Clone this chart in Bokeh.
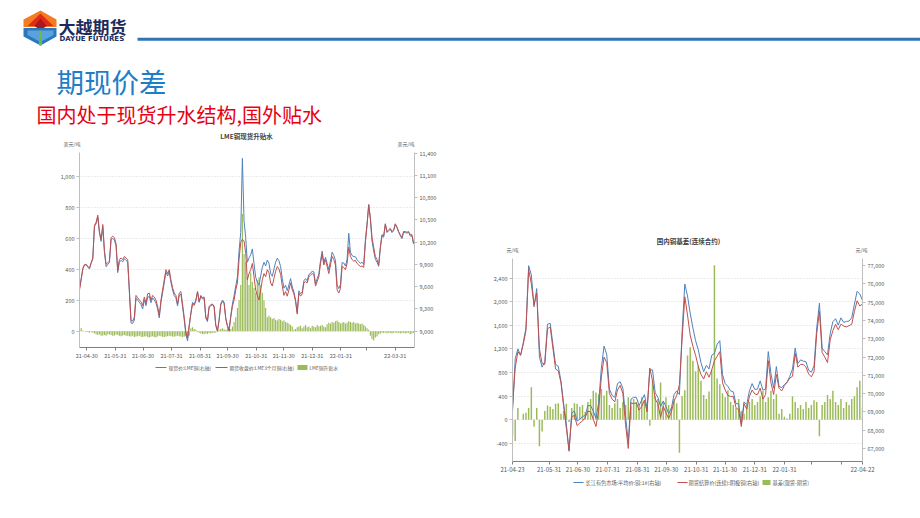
import pandas as pd
from bokeh.plotting import figure
from bokeh.models import (Range1d, LinearAxis, FixedTicker, DatetimeTickFormatter,
                          NumeralTickFormatter, Spacer)
from bokeh.layouts import column, row
from bokeh.embed import file_html
from bokeh.resources import INLINE
from bokeh.core.properties import value

FONT = "Noto Sans CJK SC"

# ---------------- Left chart data: LME copper (USD/t) ----------------
lme_start, lme_end = "2021-04-22", "2022-04-20"
lme_3m = [
    9557, 9693, 9840, 9897, 9903, 9872, 9851, 9924, 9987, 10428,
    10470, 10565, 10344, 10239, 10439, 10092, 9903, 9924, 9945, 10260,
    10281, 10260, 10176, 9819, 9966, 9987, 9966, 10008, 9987, 9966,
    9557, 9147, 9137, 9189, 9483, 9452, 9420, 9399, 9347, 9462,
    9378, 9504, 9515, 9420, 9483, 9462, 9420, 9336, 9210, 9420,
    9557, 9693, 9830, 9777, 9830, 9693, 9588, 9515, 9483, 9368,
    9515, 9536, 9368, 9189, 8990, 8906, 9084, 9231, 9368, 9347,
    9410, 9536, 9399, 9483, 9452, 9462, 9189, 9147, 9336, 9357,
    9368, 9336, 9084, 9000, 9147, 9357, 9399, 9378, 9168, 9063,
    9000, 9189, 9336, 9420, 9557, 9651, 9966, 10197, 10239, 10218,
    10050, 9693, 9777, 9830, 9914, 9735, 9557, 9483, 9420, 9557,
    9693, 9777, 9735, 9830, 9788, 9651, 9609, 9714, 9809, 9872,
    9840, 9767, 9609, 9483, 9536, 9473, 9557, 9651, 9557, 9504,
    9399, 9231, 9515, 9473, 9504, 9651, 9672, 9651, 9735, 9756,
    9777, 9767, 9609, 9672, 9735, 9914, 10040, 9893, 9966, 9872,
    9777, 9893, 10008, 9966, 9893, 9557, 9515, 9578, 9872, 9861,
    9830, 9914, 10134, 10008, 9966, 9945, 9956, 9914, 9893, 9872,
    9880, 9860, 10197, 10428, 10701, 10533, 10260, 10134, 10008, 9966,
    9893, 10134, 10302, 10281, 10449, 10344, 10365, 10386, 10344, 10365,
    10449, 10407, 10344, 10302, 10260, 10344, 10344, 10334, 10344, 10302,
    10302, 10187,
]
lme_cash = [
    9575, 9710, 9845, 9895, 9895, 9865, 9840, 9915, 9975, 10410,
    10450, 10540, 10320, 10210, 10410, 10065, 9870, 9900, 9925, 10235,
    10250, 10230, 10150, 9790, 9935, 9955, 9935, 9980, 9955, 9935,
    9525, 9110, 9105, 9150, 9445, 9420, 9390, 9360, 9300, 9425,
    9345, 9460, 9470, 9385, 9450, 9420, 9380, 9300, 9180, 9385,
    9520, 9655, 9795, 9745, 9800, 9660, 9555, 9480, 9450, 9340,
    9485, 9500, 9330, 9155, 8955, 8870, 9055, 9250, 9390, 9360,
    9420, 9530, 9390, 9470, 9435, 9442, 9175, 9130, 9325, 9342,
    9358, 9325, 9076, 9005, 9157, 9372, 9419, 9390, 9176, 9081,
    9025, 9204, 9366, 9480, 9610, 9730, 10080, 10330, 11330, 10490,
    10260, 9930, 9990, 10030, 10110, 9910, 9730, 9660, 9620, 9745,
    9860, 9930, 9880, 9960, 9915, 9780, 9740, 9840, 9930, 9985,
    9950, 9870, 9710, 9580, 9620, 9545, 9625, 9710, 9600, 9530,
    9420, 9255, 9545, 9505, 9530, 9680, 9710, 9680, 9765, 9780,
    9810, 9800, 9640, 9710, 9770, 9950, 10080, 9925, 9995, 9915,
    9830, 9945, 10065, 10020, 9955, 9625, 9575, 9630, 9925, 9920,
    9880, 9970, 10320, 10065, 10020, 10005, 10005, 9965, 9940, 9915,
    9930, 9900, 10225, 10445, 10710, 10505, 10215, 10080, 9970, 9930,
    9875, 10120, 10290, 10268, 10440, 10330, 10355, 10375, 10330, 10355,
    10440, 10395, 10335, 10288, 10248, 10335, 10330, 10322, 10335, 10282,
    10288, 10175,
]
lme_spread = [
    20, 20, 5, 0, -5, -5, -10, -5, -10, -15,
    -20, -25, -20, -30, -28, -25, -30, -22, -20, -25,
    -30, -28, -22, -25, -30, -32, -28, -25, -30, -30,
    -33, -35, -30, -38, -35, -33, -30, -36, -38, -35,
    -32, -38, -40, -36, -33, -38, -40, -35, -30, -33,
    -36, -38, -35, -33, -30, -32, -34, -36, -33, -30,
    -32, -35, -37, -35, -33, -38, -30, 20, 25, 15,
    10, -5, -10, -15, -18, -20, -15, -18, -12, -15,
    -10, -12, -8, 5, 10, 15, 20, 12, 8, 18,
    25, 15, 30, 60, 90, 150, 200, 300, 760, 500,
    450, 350, 300, 380, 320, 280, 250, 330, 350, 300,
    250, 200, 150, 90, 100, 90, 80, 85, 75, 70,
    80, 75, 65, 70, 60, 55, 50, 40, 30, 10,
    15, 25, 30, 35, 20, 30, 40, 25, 30, 20,
    35, 30, 25, 40, 30, 35, 40, 30, 25, 45,
    55, 50, 60, 55, 65, 70, 60, 50, 55, 60,
    50, 55, 65, 60, 55, 60, 50, 55, 50, 45,
    50, 40, 30, 20, 10, -30, -50, -60, -40, -35,
    -20, -15, -10, -12, -8, -15, -10, -12, -15, -10,
    -8, -12, -10, -15, -12, -10, -15, -12, -10, -20,
    -15, -10,
]
lme_tick_dates = ["2021-04-30", "2021-05-31", "2021-06-30", "2021-07-31", "2021-08-31",
                  "2021-09-30", "2021-10-31", "2021-11-30", "2021-12-31", "2022-01-31",
                  "2022-02-28", "2022-03-31"]
lme_tick_labels = ["21-04-30", "21-05-31", "21-06-30", "21-07-31", "21-08-31", "21-09-30",
                   "21-10-31", "21-11-30", "21-12-31", "22-01-31", "", "22-03-31"]
lme_left_ticks = [0, 200, 400, 600, 800, 1000]
lme_right_ticks = [9000, 9300, 9600, 9900, 10200, 10500, 10800, 11100, 11400]
lme_names = ["现货价:LME铜(右轴)", "期货收盘价:LME3个月铜(右轴)", "LME铜升贴水"]

# ---------------- Right chart data: domestic copper (CNY/t) ----------------
cn_start, cn_end = "2021-04-23", "2022-04-22"
cn_settle = [
    69250, 71400, 72300, 72100, 72700, 73450, 76800, 76000, 74850, 75500,
    72450, 71650, 71600, 73550, 73650, 72500, 71350, 71250, 70600, 69300,
    68100, 66900, 68750, 68800, 68250, 68400, 68500, 68700, 69050, 69000,
    68600, 68200, 69100, 70900, 72000, 71700, 70000, 69700, 69550, 70200,
    70450, 70000, 68300, 67000, 69500, 69450, 69500, 69100, 69300, 69650,
    69000, 71400, 70700, 69700, 69450, 68700, 69300, 68950, 68650, 69000,
    69600, 69900, 70500, 73000, 75300, 74300, 73200, 72600, 72100, 71500,
    71050, 70800, 71200, 70900, 71300, 71800, 72050, 72300, 70600, 70200,
    69900, 69850, 69850, 69250, 69100, 68200, 69450, 69150, 69850, 70200,
    69980, 69950, 70300, 69700, 69950, 71800, 70600, 69950, 71050, 70300,
    70150, 70450, 70620, 70850, 70950, 72200, 71450, 71600, 71600, 71450,
    71080, 70920, 71200, 73300, 74500, 72250, 72000, 71700, 72950, 73450,
    73800, 73500, 73800, 73700, 73650, 73720, 73800, 74500, 75080, 74800,
    74900,
]
cn_spot = [
    69000, 71900, 72450, 72100, 72800, 73600, 77000, 76500, 74750, 75750,
    72000, 71450, 71750, 73800, 73850, 72700, 71600, 71500, 70700, 69450,
    68350, 66850, 68950, 69050, 68500, 68600, 68750, 68800, 69350, 69350,
    69050, 68650, 69500, 71400, 72600, 72150, 70250, 69900, 69800, 70550,
    70650, 70300, 68750, 67350, 69700, 69800, 69800, 69350, 69650, 69950,
    69200, 71300, 71300, 70050, 69800, 69300, 69600, 69300, 68900, 69200,
    69950, 70150, 69950, 73400, 76000, 75350, 74400, 73600, 72900, 72400,
    71700, 71200, 71550, 71350, 72100, 72200, 72700, 72900, 71050, 70550,
    70400, 70150, 70100, 69450, 69450, 68350, 69550, 69400, 70150, 70550,
    70230, 70250, 70700, 70200, 70250, 72300, 71100, 70300, 71480, 70400,
    70330, 70500, 70640, 70950, 71350, 72500, 71650, 71850, 71780, 71750,
    71280, 71170, 71530, 73600, 74950, 72500, 72300, 72120, 73300, 73940,
    74100, 73750, 74150, 73900, 73950, 73970, 74150, 74900, 75600, 75450,
    75100,
]
cn_basis = [
    -270, -360, 200, 0, 100, 120, 200, 550, -120, 200,
    -450, -200, 150, 240, 220, 180, 270, 280, 100, 150,
    270, -40, 200, 280, 270, 220, 250, 130, 300, 350,
    490, 460, 430, 520, 410, 490, 250, 200, 280, 350,
    200, 300, 250, 380, 230, 350, 300, 250, 380, 300,
    220, -100, 660, 400, 350, 630, 300, 380, 250, 200,
    350, 280, -560, 400, 500, 1090, 1230, 1000, 820, 920,
    660, 420, 350, 480, 850, 2620, 700, 600, 450, 380,
    500, 300, 250, 200, 350, 150, 100, 250, 300, 350,
    250, 300, 400, 490, 300, 380, 490, 350, 430, 100,
    180, 50, 20, 100, 400, 300, 200, 250, 180, 300,
    200, 250, 330, 300, -280, 250, 300, 420, 350, 490,
    300, 250, 350, 200, 300, 250, 350, 400, 550, 660,
    210,
]
cn_tick_dates = ["2021-04-23", "2021-05-31", "2021-06-30", "2021-07-31", "2021-08-31",
                 "2021-09-30", "2021-10-31", "2021-11-30", "2021-12-31", "2022-01-31",
                 "2022-02-28", "2022-03-31", "2022-04-22"]
cn_tick_labels = ["21-04-23", "21-05-31", "21-06-30", "21-07-31", "21-08-31", "21-09-30",
                  "21-10-31", "21-11-30", "21-12-31", "22-01-31", "", "", "22-04-22"]
cn_left_ticks = [-400, 0, 400, 800, 1200, 1600, 2000, 2400]
cn_right_ticks = [67000, 68000, 69000, 70000, 71000, 72000, 73000, 74000, 75000, 76000, 77000]
cn_names = ["长江有色市场:平均价:铜:1#(右轴)", "期货结算价(连续):阴极铜(右轴)", "基差(现货-期货)"]

BLUE = "#4f81bd"
RED = "#c0504d"
GREEN = "#9bbb59"
GREY_TXT = "#595959"


def ms(d):
    return float(pd.Timestamp(d).value // 10**6)


def style_axis(ax, line_color, size="5.5px"):
    ax.axis_line_color = line_color
    ax.major_tick_line_color = line_color
    ax.major_tick_out = 3
    ax.major_tick_in = 0
    ax.minor_tick_line_color = None
    ax.major_label_text_font = FONT
    ax.major_label_text_font_size = size
    ax.major_label_text_color = GREY_TXT
    ax.major_label_standoff = 2


def strip(width, height, bl, br):
    """Text strip whose frame lines up with the chart frame; pixel coords, origin top-left."""
    fw = width - bl - br
    s = figure(width=width, height=height, x_range=Range1d(0, fw), y_range=Range1d(height, 0),
               toolbar_location=None, output_backend="svg",
               min_border_left=bl, min_border_right=br, min_border_top=0, min_border_bottom=0,
               x_axis_location=None, y_axis_location=None, title=None)
    s.grid.visible = False
    s.outline_line_color = None
    return s


def unit_axis(s, side, y, text, standoff):
    ax = LinearAxis(ticker=FixedTicker(ticks=[y]), major_label_overrides={y: text})
    ax.axis_line_color = None
    ax.major_tick_line_color = None
    ax.minor_tick_line_color = None
    ax.major_tick_out = 0
    ax.major_tick_in = 0
    ax.major_label_standoff = standoff
    ax.major_label_text_font = FONT
    ax.major_label_text_font_size = "5px"
    ax.major_label_text_color = GREY_TXT
    s.add_layout(ax, side)


def caption(width, height, bl, br, title_xy, title, unit, unit_y, sl, sr):
    s = strip(width, height, bl, br)
    s.text(x=[title_xy[0]], y=[title_xy[1]], text=[title], text_font=value(FONT),
           text_font_size="6.5px", text_font_style="bold", text_color="#404040",
           text_align="center", text_baseline="middle")
    unit_axis(s, "left", unit_y, unit, sl)
    unit_axis(s, "right", unit_y, unit, sr)
    return s


def legend_strip(width, height, bl, br, yc, names, pos, size):
    s = strip(width, height, bl, br)
    (g1, t1), (g2, t2), (g3, t3) = pos
    s.segment(x0=[g1[0]], y0=[yc], x1=[g1[1]], y1=[yc], line_color=BLUE, line_width=1.2)
    s.segment(x0=[g2[0]], y0=[yc], x1=[g2[1]], y1=[yc], line_color=RED, line_width=1.2)
    s.quad(left=[g3[0]], right=[g3[1]], top=[yc - 2.5], bottom=[yc + 2.5], color=GREEN, line_color=None)
    s.text(x=[t1, t2, t3], y=[yc, yc, yc], text=names, text_font=value(FONT),
           text_font_size=size, text_color=GREY_TXT, text_align="left", text_baseline="middle")
    return s


def build_chart(width, height, borders, x_start, x_end, dates, bars, spot, fut,
                yl, yr, lt, rt, tick_dates, tick_labels, xsize, bar_frac):
    bl, br, bt, bb = borders
    p = figure(width=width, height=height, title=None, x_axis_type="datetime",
               x_range=Range1d(pd.Timestamp(x_start), pd.Timestamp(x_end)),
               y_range=Range1d(*yl), toolbar_location=None, output_backend="svg",
               min_border_left=bl, min_border_right=br, min_border_top=bt, min_border_bottom=bb)
    p.outline_line_color = None
    p.xgrid.visible = False
    p.ygrid.ticker = FixedTicker(ticks=lt)
    p.ygrid.grid_line_color = "#d9d9d9"
    p.ygrid.grid_line_dash = "1 2"
    p.extra_y_ranges = {"price": Range1d(*yr)}

    step = (dates[1] - dates[0]).total_seconds() * 1000.0
    p.vbar(x=dates, top=bars, bottom=0, width=step * bar_frac, color=GREEN, line_color=None)
    p.line(x=dates, y=spot, y_range_name="price", line_color=BLUE, line_width=1)
    p.line(x=dates, y=fut, y_range_name="price", line_color=RED, line_width=1)

    yax = p.yaxis[0]
    yax.ticker = FixedTicker(ticks=lt)
    yax.formatter = NumeralTickFormatter(format="0,0")
    style_axis(yax, "#bfbfbf")

    rax = LinearAxis(y_range_name="price", ticker=FixedTicker(ticks=rt),
                     formatter=NumeralTickFormatter(format="0,0"))
    style_axis(rax, "#bfbfbf")
    p.add_layout(rax, "right")

    xax = p.xaxis[0]
    xt = [ms(d) for d in tick_dates]
    xax.ticker = FixedTicker(ticks=xt)
    xax.formatter = DatetimeTickFormatter(days="%y-%m-%d", months="%y-%m-%d", years="%y-%m-%d")
    xax.major_label_overrides = {t: lab for t, lab in zip(xt, tick_labels) if lab == ""}
    style_axis(xax, "#7f7f7f", xsize)
    return p


# ---- left chart: slide x 50..440, frame 79..414 ----
LB, RB = 29, 26
left_cap = caption(390, 20, LB, RB, (167, 7), "LME铜现货升贴水", "美元/吨", 18, -1, -17)
lme_dates = pd.date_range(lme_start, lme_end, periods=len(lme_3m))
left = build_chart(390, 214, (LB, RB, 4, 15), "2021-04-22", "2022-04-21", lme_dates,
                   lme_spread, lme_cash, lme_3m, (-105.5, 1158.6), (8781, 11409),
                   lme_left_ticks, lme_right_ticks, lme_tick_dates, lme_tick_labels,
                   "5.5px", 0.7)
left_leg = legend_strip(390, 12, LB, RB, 5, lme_names,
                        [((76, 87), 89), ((136, 148), 150), ((218, 228), 230)], "4.8px")

# ---- right chart: slide x 485..890, frame 512..862 ----
LB2, RB2 = 27, 28
right_cap = caption(405, 21, LB2, RB2, (176, 8), "国内铜基差(连续合约)", "元/吨", 18, -6, -7)
cn_dates = pd.date_range(cn_start, cn_end, periods=len(cn_settle))
right = build_chart(405, 223, (LB2, RB2, 5, 15), "2021-04-23", "2022-04-22", cn_dates,
                    cn_basis, cn_spot, cn_settle, (-708, 2733), (66288, 77395),
                    cn_left_ticks, cn_right_ticks, cn_tick_dates, cn_tick_labels,
                    "6px", 0.55)
right_leg = legend_strip(405, 10, LB2, RB2, 4, cn_names,
                         [((61, 71), 73), ((165, 175), 176), ((250, 258), 260)], "5.2px")

# ---------------- Header (slide coordinates) ----------------
hdr = figure(width=920, height=128, x_range=Range1d(0, 920), y_range=Range1d(128, 0),
             toolbar_location=None, output_backend="svg", min_border=0,
             x_axis_location=None, y_axis_location=None, title=None)
hdr.grid.visible = False
hdr.outline_line_color = None
# logo: orange/red upper half, blue lower half, green centre stripe
hdr.patch(x=[40, 56, 56, 23, 23], y=[10, 19, 26.5, 26.5, 19], color="#f47b20", line_color=None)
hdr.patch(x=[40, 53, 27], y=[13, 25.5, 25.5], color="#e3281c", line_color=None)
hdr.patch(x=[40, 46, 40, 34], y=[18, 25.5, 30, 25.5], color="#a8191c", line_color=None)
hdr.patch(x=[23, 56, 56, 40, 23], y=[27.5, 27.5, 36, 45, 36], color="#2a77c0", line_color=None)
hdr.patch(x=[27, 53, 53, 40, 27], y=[30, 30, 34.5, 41.5, 34.5], color="#5aa2de", line_color=None)
hdr.patch(x=[38.5, 41.5, 41.5, 38.5], y=[30, 30, 45, 45], color="#6cb944", line_color=None)
hdr.text(x=[58], y=[25.5], text=["大越期货"], text_font=value(FONT), text_font_size="17px",
         text_font_style="bold", text_color="#1c2b5a", text_baseline="middle")
hdr.text(x=[59], y=[38.5], text=["DAYUE FUTURES"], text_font=value("DejaVu Sans"),
         text_font_size="7px", text_font_style="bold", text_color="#1c2b5a", text_baseline="middle")
hdr.segment(x0=[137], y0=[38.7], x1=[920], y1=[38.7], line_color="#2f75b5", line_width=3)
hdr.text(x=[56], y=[80], text=["期现价差"], text_font=value(FONT), text_font_size="27.5px",
         text_color="#1f7dc8", text_baseline="middle")
hdr.text(x=[36], y=[114], text=["国内处于现货升水结构,国外贴水"], text_font=value(FONT),
         text_font_size="20px", text_color="#e60012", text_baseline="middle")

body = row(Spacer(width=50, height=10),
           column(left_cap, left, left_leg, Spacer(width=390, height=116)),
           Spacer(width=45, height=10),
           column(Spacer(width=405, height=104), right_cap, right, right_leg,
                  Spacer(width=405, height=4)))
page = column(hdr, body)

open("out.html", "w").write(file_html(page, INLINE))
